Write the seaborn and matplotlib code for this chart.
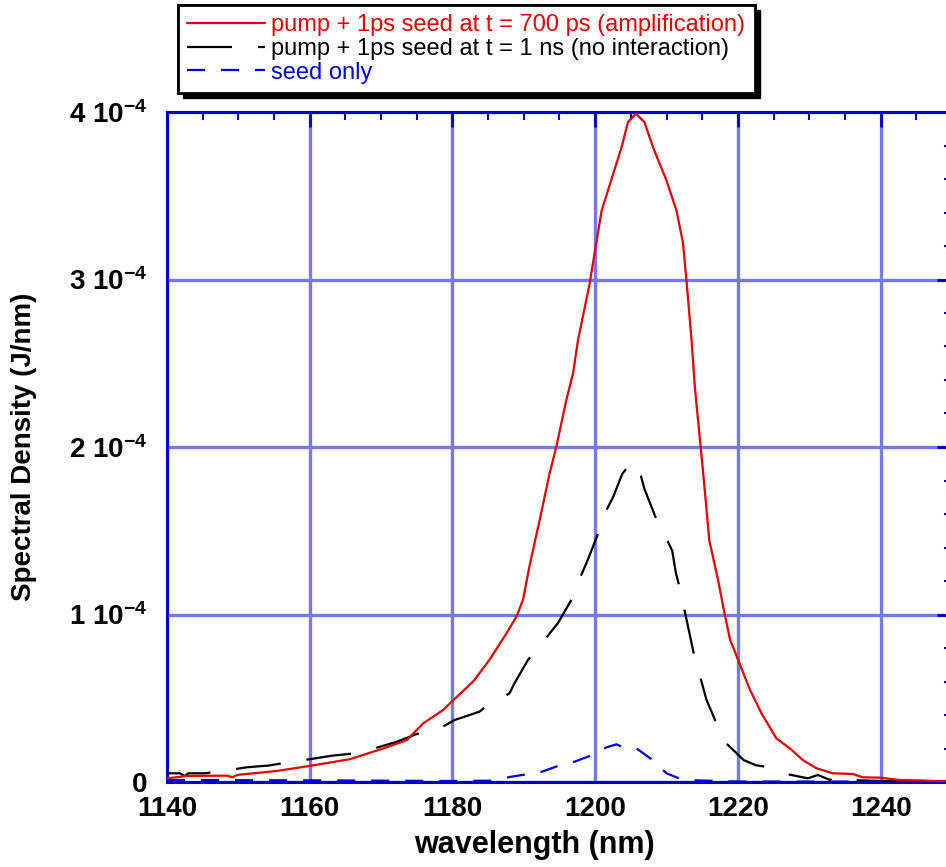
import numpy as np
import pandas as pd
import matplotlib
matplotlib.use("Agg")
import matplotlib.pyplot as plt
from matplotlib.ticker import FixedLocator, FixedFormatter, MultipleLocator
from matplotlib.patches import Rectangle
import seaborn as sns

# ---------------- data ----------------
amp_wl = [1140, 1142.8, 1148.4, 1149.2, 1149.8, 1155.4, 1160, 1165.6, 1170.3, 1173.6,
          1175.9, 1178.7, 1179.9, 1182.9, 1185.2, 1187.6, 1189, 1189.9, 1190.8, 1192.2,
          1193.6, 1194.6, 1195.9, 1196.9, 1197.6, 1199.2, 1199.7, 1200.9, 1202.3, 1203.7,
          1204.6, 1205.7, 1206.9, 1208.1, 1210, 1211.4, 1212.3, 1212.8, 1213.5, 1214,
          1214.6, 1215.1, 1216, 1217.2, 1218.2, 1218.9, 1220.2, 1221.7, 1223.3, 1225.4,
          1227.3, 1229.1, 1231, 1233.3, 1236.1, 1237.5, 1239.9, 1242.7, 1245.3, 1250]
amp_sd = [2.2e-6, 3.6e-6, 3.8e-6, 2.8e-6, 4.2e-6, 6.6e-6, 9.6e-6, 1.36e-5, 2.0e-5, 2.5e-5,
          3.5e-5, 4.3e-5, 4.8e-5, 6.0e-5, 7.3e-5, 8.9e-5, 9.9e-5, 1.09e-4, 1.29e-4, 1.56e-4,
          1.84e-4, 2.01e-4, 2.27e-4, 2.44e-4, 2.64e-4, 2.97e-4, 3.10e-4, 3.41e-4, 3.60e-4, 3.79e-4,
          3.94e-4, 3.99e-4, 3.94e-4, 3.79e-4, 3.59e-4, 3.41e-4, 3.22e-4, 2.99e-4, 2.64e-4, 2.34e-4,
          2.08e-4, 1.86e-4, 1.44e-4, 1.21e-4, 9.9e-5, 8.5e-5, 7.1e-5, 5.5e-5, 4.1e-5, 2.6e-5,
          2.0e-5, 1.31e-5, 8.2e-6, 5.2e-6, 4.8e-6, 2.8e-6, 2.6e-6, 1.2e-6, 1.0e-6, 0.2e-6]

noint_wl = [1140, 1141.8, 1142.5, 1143.0, 1145.3, 1148.8, 1151.2, 1154.2, 1157.5, 1160,
            1163.1, 1166.3, 1169.4, 1172.2, 1175, 1177.8, 1180.3, 1183.8, 1185.2, 1186.9,
            1188, 1188.7, 1190.6, 1192.2, 1194.8, 1196.7, 1197.8, 1199, 1200.2, 1201.3,
            1202.5, 1203.8, 1205.1, 1206.2, 1206.9, 1208.1, 1209, 1209.7, 1210.8, 1211.3,
            1211.9, 1212.6, 1213.3, 1214, 1214.7, 1215.6, 1216.8, 1217.9, 1220.8, 1222.5,
            1224.4, 1226.3, 1229.8, 1231.2, 1232.9, 1233.7, 1235.2, 1238.5, 1242, 1250]
noint_sd = [5.2e-6, 5.2e-6, 3.6e-6, 5.2e-6, 5.2e-6, 7.2e-6, 8.8e-6, 9.8e-6, 1.21e-5, 1.36e-5,
            1.57e-5, 1.71e-5, 2.05e-5, 2.4e-5, 2.87e-5, 3.1e-5, 3.7e-5, 4.2e-5, 4.7e-5, 5.0e-5,
            5.3e-5, 5.9e-5, 7.3e-5, 8.1e-5, 9.5e-5, 1.09e-4, 1.21e-4, 1.33e-4, 1.46e-4, 1.60e-4,
            1.70e-4, 1.84e-4, 1.91e-4, 1.86e-4, 1.75e-4, 1.62e-4, 1.52e-4, 1.48e-4, 1.38e-4, 1.25e-4,
            1.15e-4, 1.01e-4, 8.7e-5, 7.3e-5, 6.3e-5, 4.9e-5, 3.7e-5, 2.5e-5, 1.31e-5, 1.0e-5,
            8.8e-6, 5.2e-6, 2.2e-6, 4.2e-6, 1.2e-6, 3.0e-6, 1.2e-6, 0.8e-6, 0.4e-6, 0.2e-6]

seed_wl = [1140, 1160, 1180, 1185.6, 1188.3, 1190.4, 1192.5, 1194.8, 1197.1, 1199.2,
           1201.6, 1203.0, 1203.7, 1205.8, 1207.9, 1210, 1212.3, 1220, 1250]
seed_sd = [1.2e-6, 1.0e-6, 0.6e-6, 0.8e-6, 3.2e-6, 4.6e-6, 6.1e-6, 9.6e-6, 1.21e-5, 1.55e-5,
           2.07e-5, 2.25e-5, 2.11e-5, 2.0e-5, 1.36e-5, 5.2e-6, 1.2e-6, 0.3e-6, 0.2e-6]

labels = ["pump + 1ps seed at t = 700 ps (amplification)",
          "pump + 1ps seed at t = 1 ns (no interaction)",
          "seed only"]
x_ticks = [1140, 1160, 1180, 1200, 1220, 1240]
y_ticks = [0, 1e-4, 2e-4, 3e-4, 4e-4]
y_tick_labels = ["0", "1 10$^{-4}$", "2 10$^{-4}$", "3 10$^{-4}$", "4 10$^{-4}$"]

# ---------------- styling ----------------
sns.set_theme(style="white")
plt.rcParams["font.family"] = ["Liberation Sans", "DejaVu Sans"]
plt.rcParams["mathtext.default"] = "regular"
plt.rcParams["lines.scale_dashes"] = False

RED = "#e60000"
BLACK = "#000000"
BLUE = "#0000dd"
SPINE = "#0000cc"
GRID = "#7878ee"

W, H = 946, 867
fig = plt.figure(figsize=(W / 100, H / 100), dpi=100)
ax = fig.add_axes([167 / W, (H - 782) / H, 785 / W, 670 / H])

df_amp = pd.DataFrame({"wl": amp_wl, "sd": amp_sd})
df_noint = pd.DataFrame({"wl": noint_wl, "sd": noint_sd})
df_seed = pd.DataFrame({"wl": seed_wl, "sd": seed_sd})

sns.lineplot(data=df_amp, x="wl", y="sd", ax=ax, color=RED, lw=1.6,
             label=labels[0], estimator=None, sort=False, zorder=5)
sns.lineplot(data=df_noint, x="wl", y="sd", ax=ax, color=BLACK, lw=1.6,
             linestyle=(0, (32.4, 18.7)), label=labels[1], estimator=None,
             sort=False, zorder=4)
sns.lineplot(data=df_seed, x="wl", y="sd", ax=ax, color=BLUE, lw=1.6,
             linestyle=(0, (13, 11.5)), label=labels[2], estimator=None,
             sort=False, zorder=4)

ax.set_xlim(1140, 1250)
ax.set_ylim(0, 4e-4)
ax.xaxis.set_major_locator(FixedLocator(x_ticks))
ax.xaxis.set_minor_locator(MultipleLocator(5))
ax.yaxis.set_major_locator(FixedLocator(y_ticks))
ax.yaxis.set_major_formatter(FixedFormatter(y_tick_labels))
ax.yaxis.set_minor_locator(MultipleLocator(2e-5))

ax.grid(True, which="major", color=GRID, lw=2.4, zorder=0)
ax.set_axisbelow(True)
for s in ax.spines.values():
    s.set_color(SPINE)
    s.set_linewidth(2.2)
    s.set_visible(True)

ax.tick_params(which="both", direction="in", top=True, right=True, color=SPINE)
ax.tick_params(which="major", length=11, width=2, pad=10)
ax.tick_params(which="minor", length=6, width=1.5)
ax.tick_params(axis="both", labelsize=20, labelcolor="black")
for lab in ax.get_xticklabels() + ax.get_yticklabels():
    lab.set_fontweight("bold")
ax.tick_params(axis="y", pad=14)

ax.set_xlabel("wavelength (nm)", fontsize=22, fontweight="bold", color="black")
ax.set_ylabel("Spectral Density (J/nm)", fontsize=20, fontweight="bold", color="black")
ax.xaxis.set_label_coords(0.4675, -0.072)
ax.yaxis.set_label_coords(-0.165, 0.5)

leg = ax.legend(loc="upper left", bbox_to_anchor=(178 / W, 1 - 5 / H),
                bbox_transform=fig.transFigure, borderaxespad=0, fontsize=17,
                frameon=True, fancybox=False, edgecolor="black", framealpha=1,
                handlelength=3.3, handletextpad=0.25, labelspacing=0.07,
                borderpad=0.4)
leg.get_frame().set_linewidth(2)
for txt, c in zip(leg.get_texts(), [RED, BLACK, BLUE]):
    txt.set_color(c)
leg.set_zorder(20)

# black drop shadow behind the legend box
fig.canvas.draw()
bb = leg.get_frame().get_window_extent()
shadow = Rectangle((bb.x0 + 5, bb.y0 - 5), bb.width, bb.height,
                   transform=None, facecolor="black", edgecolor="black", zorder=19)
fig.patches.append(shadow)
leg.set_zorder(21)
fig.add_artist(leg)

fig.savefig("out.png", dpi=100)
